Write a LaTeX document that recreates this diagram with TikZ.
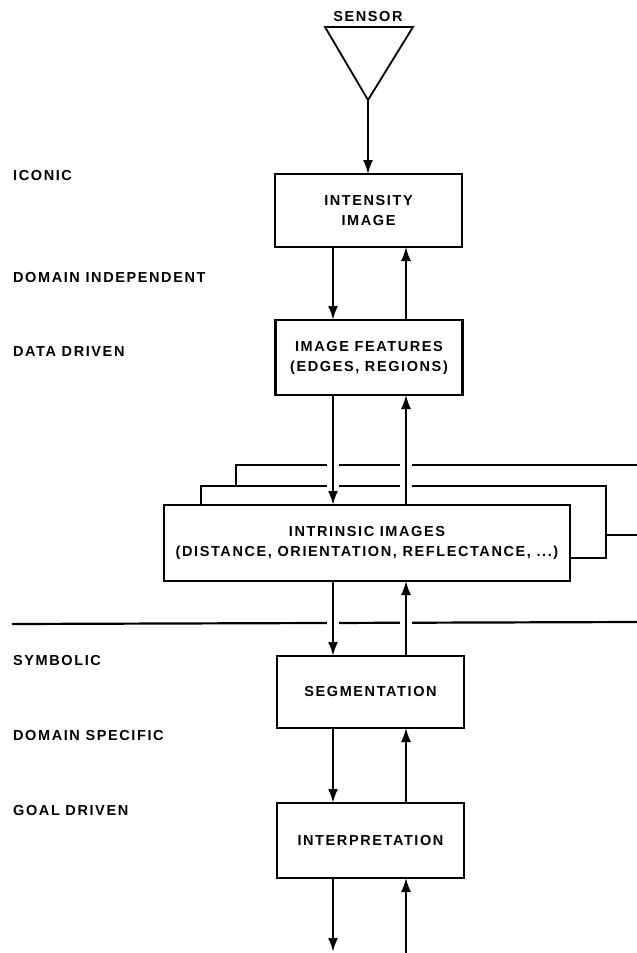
\documentclass[tikz,border=0pt]{standalone}
\usepackage{fontspec}
\setmainfont{Liberation Sans}[LetterSpace=11]
\usetikzlibrary{arrows.meta}

\tikzset{
  box/.style={draw, line width=2.2pt, fill=white, minimum width=187pt,
    minimum height=73pt, inner sep=1pt, align=center,
    font=\bfseries\fontsize{14.5}{20}\selectfont},
  layer/.style={draw, line width=2.2pt, fill=white},
  lbl/.style={anchor=west, inner sep=0pt, font=\bfseries\fontsize{14.5}{20}\selectfont},
  halo/.style={preaction={draw=white, line width=12pt, -}},
  dnline/.style={halo, line width=2.4pt, -{Latex[length=14pt,width=10pt]}},
  upline/.style={halo, line width=1.6pt, -{Latex[length=14pt,width=10pt]}},
}

\begin{document}
\begin{tikzpicture} [x=1pt, y=-1pt]
\useasboundingbox (0,0) rectangle (637,953);

% stacked layers behind the intrinsic images
\draw[layer] (236,465) rectangle (660,535);
\draw[layer] (201,486) rectangle (606,558);
\draw[line width=2.2pt] (12,624)--(637,622);

\coordinate (sensor) at (368,100);
\coordinate (outdn) at (333,952);
\coordinate (outup) at (406,953);

% sensor
\draw[line width=1.8pt, line join=miter] (325,27)--(413,27)--(sensor)--cycle;
\node[inner sep=0pt, font=\bfseries\fontsize{14.5}{20}\selectfont] (sensorlbl) at (368,17) {SENSOR};

% arrows first, boxes are drawn over their ends
\coordinate (intensityN) at (368,174);
\draw[upline] (sensor)--(intensityN);
\foreach \a/\b/\ya/\yb in {intensity/features/247/320, features/intrinsic/395/505,
    intrinsic/segm/581/656, segm/interp/728/803} {
  \draw[dnline] (333,\ya)--(333,\yb);
  \draw[upline] (406,\yb)--(406,\ya);
}
\draw[dnline] (333,878)--(outdn);
\draw[upline] (outup)--(406,878);

% boxes
\node[box] (intensity) at (368.5,210.5) {INTENSITY\\IMAGE};
\node[box, minimum height=75pt] (features) at (369,357.5) {IMAGE FEATURES\\(EDGES, REGIONS)};
\node[box, minimum width=406pt, minimum height=76pt] (intrinsic) at (367,543)
  {INTRINSIC IMAGES\\(DISTANCE, ORIENTATION, REFLECTANCE, ...)};
\node[box, minimum height=72pt] (segm) at (370.5,692) {SEGMENTATION};
\node[box, minimum height=75pt] (interp) at (370.5,840.5) {INTERPRETATION};

% levels on the left
\foreach \y/\t in {176/ICONIC, 278/DOMAIN INDEPENDENT, 352/DATA DRIVEN,
    660/SYMBOLIC, 735/DOMAIN SPECIFIC, 810/GOAL DRIVEN} {
  \node[lbl] at (13,\y) {\t};
}
\end{tikzpicture}
\end{document}
